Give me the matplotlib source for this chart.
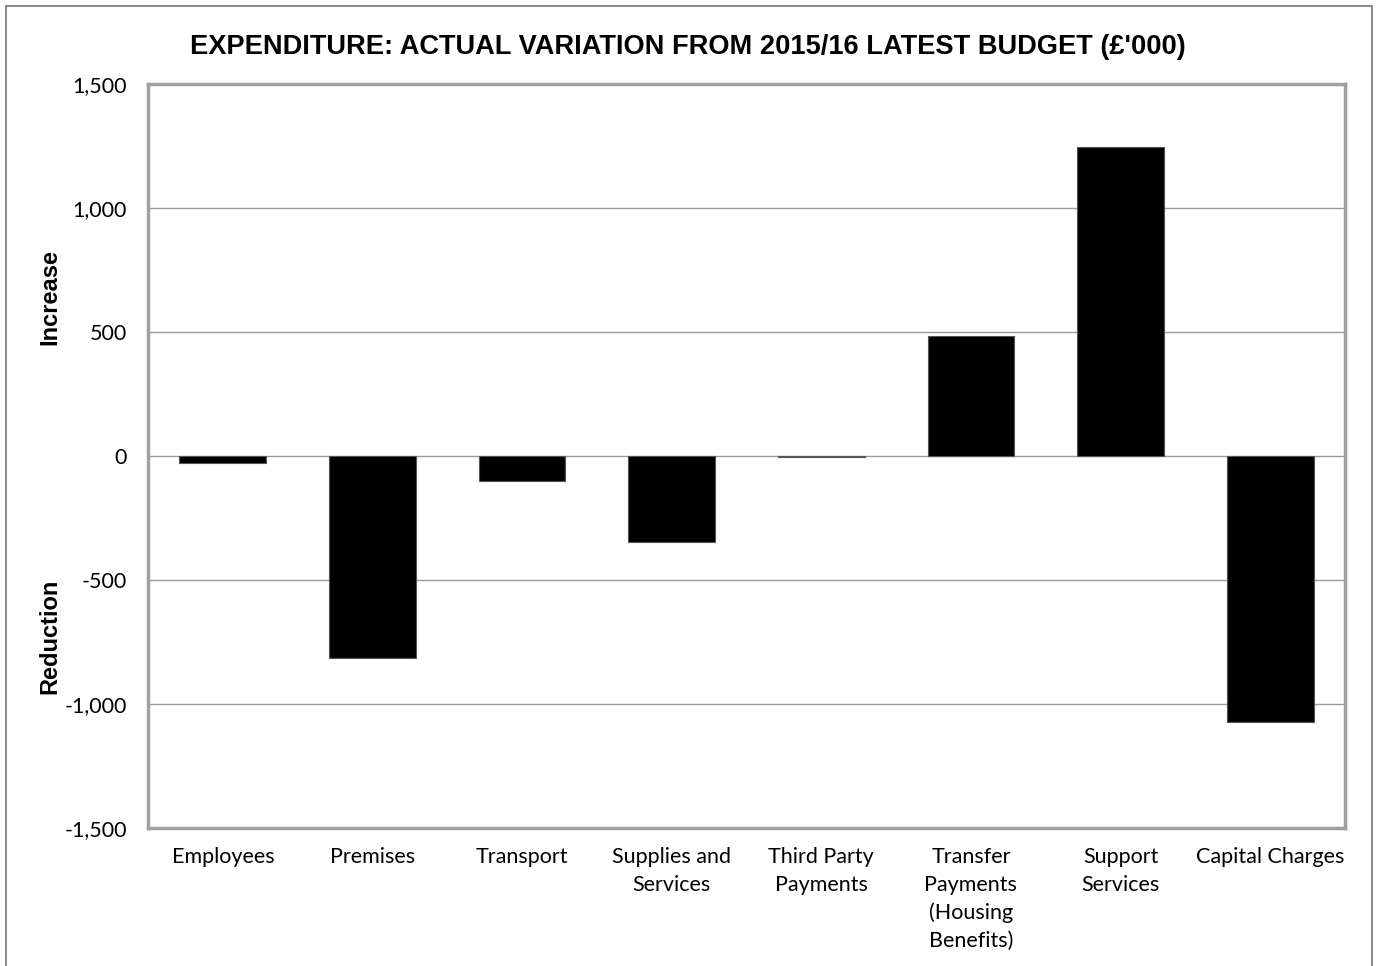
import matplotlib
matplotlib.use("Agg")
import matplotlib.pyplot as plt
from matplotlib.patches import Rectangle
from matplotlib.ticker import FuncFormatter

categories = ["Employees", "Premises", "Transport", "Supplies and\nServices",
              "Third Party\nPayments", "Transfer\nPayments\n(Housing\nBenefits)",
              "Support\nServices", "Capital Charges"]
values = [-28, -813, -100, -346, -4, 483, 1245, -1072]
yticks = [-1500, -1000, -500, 0, 500, 1000, 1500]

W, H = 1378, 966
fig = plt.figure(figsize=(W / 100, H / 100), dpi=100)
ax = fig.add_axes([148 / W, 1 - 828 / H, (1345 - 148) / W, (828 - 84) / H])

# outer frame
fig.patches.append(Rectangle((6 / W, -0.05), (1372 - 6) / W, 1 - 6 / H + 0.05,
                             transform=fig.transFigure, fill=False,
                             edgecolor="#8c8c8c", linewidth=1.5))

x = list(range(len(categories)))
ax.bar(x, values, width=0.58, color="black", edgecolor="#555555", linewidth=0.8, zorder=3)
ax.set_xlim(-0.5, len(categories) - 0.5)
ax.set_ylim(-1500, 1500)
ax.set_yticks(yticks)
ax.yaxis.set_major_formatter(FuncFormatter(lambda v, p: f"{int(v):,}"))
ax.yaxis.grid(True, color="#9a9a9a", linewidth=1.0, zorder=0)
ax.set_axisbelow(True)
ax.set_xticks(x)
ax.set_xticklabels(categories, linespacing=1.47, va="top")
ax.tick_params(axis="both", length=0, labelsize=15.5)
ax.tick_params(axis="x", pad=14)
ax.tick_params(axis="y", pad=15)
for lbl in ax.get_xticklabels() + ax.get_yticklabels():
    lbl.set_fontfamily("Lato")
for s in ax.spines.values():
    s.set_color("#a0a0a0")
    s.set_linewidth(2.5)

fig.text(688 / W, 1 - 47 / H, "EXPENDITURE: ACTUAL VARIATION FROM 2015/16 LATEST BUDGET (£'000)",
         ha="center", va="center", fontsize=19.6, fontweight="bold", family="Liberation Sans")
fig.text(50 / W, 1 - 297 / H, "Increase", rotation=90, ha="center", va="center",
         fontsize=17, fontweight="bold", family="Liberation Sans")
fig.text(50 / W, 1 - 636 / H, "Reduction", rotation=90, ha="center", va="center",
         fontsize=17, fontweight="bold", family="Liberation Sans")

fig.savefig("out.png", dpi=100, facecolor="white")
